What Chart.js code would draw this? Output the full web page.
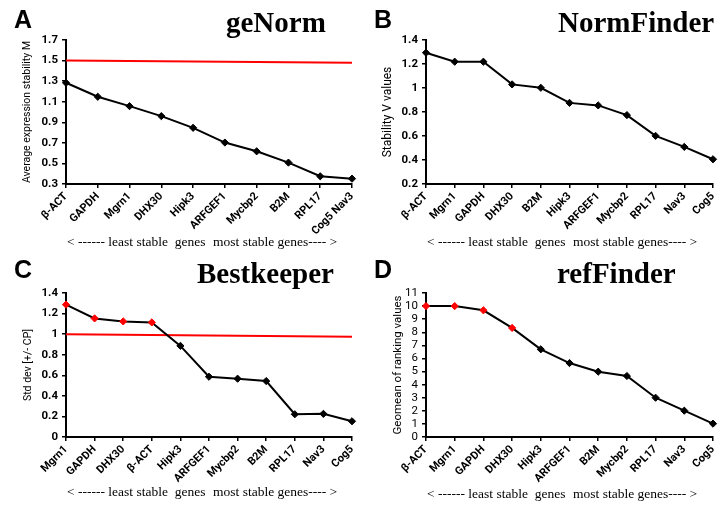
<!DOCTYPE html>
<html lang="en">
<head>
<meta charset="UTF-8" />
<title>Reference gene stability</title>
<script src="https://cdn.jsdelivr.net/npm/chart.js"></script>
<style>
  html, body { margin: 0; padding: 0; background: #fff; }
  #wrap { position: relative; width: 721px; height: 506px; overflow: hidden; }
  canvas { position: absolute; }
</style>
</head>
<body>
<div id="wrap">
  <canvas id="chartA" width="360" height="253" style="left:0;top:0"></canvas>
  <canvas id="chartB" width="361" height="253" style="left:360px;top:0"></canvas>
  <canvas id="chartC" width="360" height="253" style="left:0;top:253px"></canvas>
  <canvas id="chartD" width="361" height="253" style="left:360px;top:253px"></canvas>
</div>
<script>
  // A - geNorm
  const genesA = ['β-ACT', 'GAPDH', 'Mgrn1', 'DHX30', 'Hipk3', 'ARFGEF1', 'Mycbp2', 'B2M', 'RPL17', 'Cog5 Nav3'];
  const valuesA = [1.284, 1.148, 1.057, 0.96, 0.846, 0.703, 0.618, 0.508, 0.375, 0.352];
  const cutoffA = [1.5, 1.478];
  const ticksA = [0.3, 1.7, 0.2];

  // B - NormFinder
  const genesB = ['β-ACT', 'Mgrn1', 'GAPDH', 'DHX30', 'B2M', 'Hipk3', 'ARFGEF1', 'Mycbp2', 'RPL17', 'Nav3', 'Cog5'];
  const valuesB = [1.294, 1.219, 1.219, 1.03, 1.002, 0.876, 0.855, 0.774, 0.601, 0.509, 0.406];
  const ticksB = [0.2, 1.4, 0.2];

  // C - Bestkeeper
  const genesC = ['Mgrn1', 'GAPDH', 'DHX30', 'β-ACT', 'Hipk3', 'ARFGEF1', 'Mycbp2', 'B2M', 'RPL17', 'Nav3', 'Cog5'];
  const valuesC = [1.287, 1.153, 1.124, 1.114, 0.886, 0.586, 0.567, 0.544, 0.221, 0.225, 0.153];
  const cutoffC = [1.0, 0.975];
  const ticksC = [0, 1.4, 0.2];

  // D - refFinder
  const genesD = ['β-ACT', 'Mgrn1', 'GAPDH', 'DHX30', 'Hipk3', 'ARFGEF1', 'B2M', 'Mycbp2', 'RPL17', 'Nav3', 'Cog5'];
  const valuesD = [10.0, 10.0, 9.68, 8.33, 6.7, 5.65, 4.99, 4.66, 3.0, 2.01, 1.02];
  const ticksD = [0, 11, 1];

  const captionParts = ['< ------ least stable  genes', 'most stable genes---- >'];

  const SANS = "'Liberation Sans Narrow', Roboto, sans-serif";
  const SERIF = "'Liberation Serif', 'Times New Roman', serif";

  const panelText = {
    id: 'panelText',
    afterDraw(chart, args, o) {
      const c = chart.ctx;
      c.save();
      c.fillStyle = '#000';
      c.textAlign = 'left';
      c.textBaseline = 'alphabetic';
      c.font = "bold 25px 'Liberation Sans', Arial, sans-serif";
      c.fillText(o.letter, 14, o.letterY);
      c.font = 'bold 29px ' + SERIF;
      c.fillText(o.title, o.titleX, o.titleY);
      c.font = '13.5px ' + SERIF;
      c.fillText(captionParts[0], 67, o.captionY);
      c.fillText(captionParts[1], 213, o.captionY);
      c.restore();
    }
  };

  // 1, 0.8, 1.2 ... as in the figure (no trailing zeros)
  const fmt = v => String(parseFloat(Number(v).toFixed(2)));

  function makePanel(id, genes, values, ticks, o) {
    const pointColors = values.map((v, i) => i < (o.highlight || 0) ? '#ff0000' : '#000000');
    const datasets = [{
      data: values,
      borderColor: '#000',
      borderWidth: 2,
      pointStyle: 'rectRot',
      pointRadius: 3.6,
      pointBackgroundColor: pointColors,
      pointBorderColor: pointColors,
      pointBorderWidth: 1,
      tension: 0,
      order: 1
    }];
    if (o.cutoff) {
      datasets.push({
        data: [{ x: genes[0], y: o.cutoff[0] }, { x: genes[genes.length - 1], y: o.cutoff[1] }],
        borderColor: '#ff0000',
        borderWidth: 2,
        pointRadius: 0,
        order: 2
      });
    }

    new Chart(document.getElementById(id), {
      type: 'line',
      data: { labels: genes, datasets },
      plugins: [panelText],
      options: {
        responsive: false,
        animation: false,
        layout: { padding: { top: 40, right: 8, left: 0, bottom: 0 } },
        plugins: {
          legend: { display: false },
          tooltip: { enabled: false },
          panelText: o
        },
        scales: {
          x: {
            offset: false,
            border: { color: '#000', width: 2 },
            grid: { drawOnChartArea: false, drawTicks: true, tickLength: 4, color: '#000', lineWidth: 1.5 },
            ticks: {
              color: '#000', autoSkip: false, minRotation: 45, maxRotation: 45, padding: 2,
              font: { family: SANS, size: 11, weight: 'bold' }
            },
            afterFit(s) { s.height = 69; s.paddingLeft = 0; s.paddingRight = 0; }
          },
          y: {
            min: ticks[0], max: ticks[1],
            border: { color: '#000', width: 2 },
            grid: { drawOnChartArea: false, drawTicks: true, tickLength: 4, color: '#000', lineWidth: 1.5 },
            ticks: {
              stepSize: ticks[2], color: '#000', padding: 4, autoSkip: false,
              callback: fmt,
              font: { family: SANS, size: o.tickSize || 11.5, weight: o.tickWeight || 'bold' }
            },
            title: {
              display: true, text: o.yTitle, color: '#000',
              padding: { top: o.yTitlePad, bottom: 0 },
              font: { family: SANS, size: o.yTitleSize }
            },
            afterFit(s) { s.width = 66; }
          }
        }
      }
    });
  }

  makePanel('chartA', genesA, valuesA, ticksA, {
    letter: 'A', letterY: 28, title: 'geNorm', titleX: 226, titleY: 32, captionY: 246,
    yTitle: 'Average expression stability M', yTitlePad: 21, yTitleSize: 10.5, cutoff: cutoffA
  });
  makePanel('chartB', genesB, valuesB, ticksB, {
    letter: 'B', letterY: 28, title: 'NormFinder', titleX: 198, titleY: 32, captionY: 246,
    yTitle: 'Stability V values', yTitlePad: 21, yTitleSize: 12
  });
  makePanel('chartC', genesC, valuesC, ticksC, {
    letter: 'C', letterY: 25, title: 'Bestkeeper', titleX: 197, titleY: 30, captionY: 243,
    yTitle: 'Std dev [+/- CP]', yTitlePad: 22, yTitleSize: 10.5, cutoff: cutoffC, highlight: 4
  });
  makePanel('chartD', genesD, valuesD, ticksD, {
    letter: 'D', letterY: 25, title: 'refFinder', titleX: 197, titleY: 30, captionY: 245,
    yTitle: 'Geomean of ranking values', yTitlePad: 31, yTitleSize: 11.5, highlight: 4,
    tickWeight: 'normal', tickSize: 11.5
  });
</script>
</body>
</html>
